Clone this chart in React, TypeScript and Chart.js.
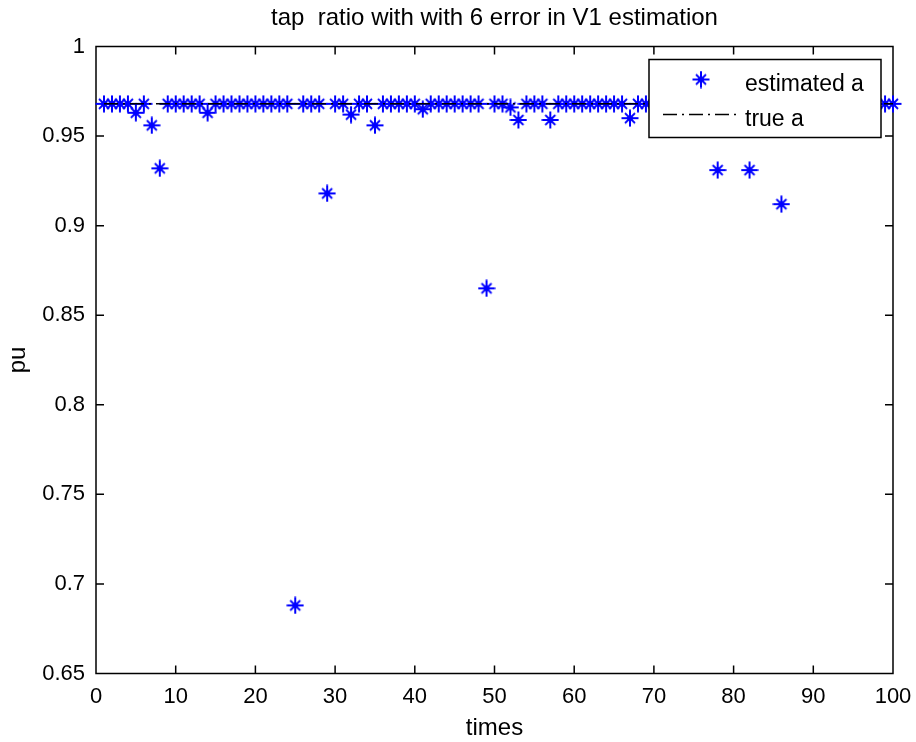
import React, { useEffect, useRef } from "react";
import { Chart, registerables } from "chart.js";

Chart.register(...registerables);

const titleText = "tap  ratio with with 6 error in V1 estimation";
const xLabel = "times";
const yLabel = "pu";
const seriesLabels = ["estimated a", "true a"];

const times = [
  1, 2, 3, 4, 5, 6, 7, 8, 9, 10,
  11, 12, 13, 14, 15, 16, 17, 18, 19, 20,
  21, 22, 23, 24, 25, 26, 27, 28, 29, 30,
  31, 32, 33, 34, 35, 36, 37, 38, 39, 40,
  41, 42, 43, 44, 45, 46, 47, 48, 49, 50,
  51, 52, 53, 54, 55, 56, 57, 58, 59, 60,
  61, 62, 63, 64, 65, 66, 67, 68, 69, 70,
  71, 72, 73, 74, 75, 76, 77, 78, 79, 80,
  81, 82, 83, 84, 85, 86, 87, 88, 89, 90,
  91, 92, 93, 94, 95, 96, 97, 98, 99, 100,
];

const estimatedA = [
  0.968, 0.968, 0.968, 0.968, 0.963, 0.968, 0.956, 0.932, 0.968, 0.968,
  0.968, 0.968, 0.968, 0.963, 0.968, 0.968, 0.968, 0.968, 0.968, 0.968,
  0.968, 0.968, 0.968, 0.968, 0.688, 0.968, 0.968, 0.968, 0.918, 0.968,
  0.968, 0.962, 0.968, 0.968, 0.956, 0.968, 0.968, 0.968, 0.968, 0.968,
  0.965, 0.968, 0.968, 0.968, 0.968, 0.968, 0.968, 0.968, 0.865, 0.968,
  0.968, 0.966, 0.959, 0.968, 0.968, 0.968, 0.959, 0.968, 0.968, 0.968,
  0.968, 0.968, 0.968, 0.968, 0.968, 0.968, 0.960, 0.968, 0.968, 0.968,
  0.968, 0.968, 0.968, 0.968, 0.968, 0.968, 0.968, 0.931, 0.968, 0.968,
  0.968, 0.931, 0.968, 0.968, 0.968, 0.912, 0.968, 0.968, 0.968, 0.968,
  0.968, 0.968, 0.968, 0.968, 0.968, 0.968, 0.968, 0.968, 0.968, 0.968,
];

const trueTimes = [1, 100];
const trueA = [0.968, 0.968];

const xTicks = [0, 10, 20, 30, 40, 50, 60, 70, 80, 90, 100];
const yTicks = [0.65, 0.7, 0.75, 0.8, 0.85, 0.9, 0.95, 1];

const FONT = '"Liberation Sans", Arial, Helvetica, sans-serif';
const STAR_COLOR = "#0000ff";
const LINE_DASH = [14, 5, 2, 5];

function makeStar(): HTMLCanvasElement {
  const c = document.createElement("canvas");
  c.width = 18;
  c.height = 18;
  const g = c.getContext("2d")!;
  g.strokeStyle = STAR_COLOR;
  g.fillStyle = STAR_COLOR;
  g.lineWidth = 2;
  g.beginPath();
  g.moveTo(0.5, 9);
  g.lineTo(17.5, 9);
  g.moveTo(9, 0.5);
  g.lineTo(9, 17.5);
  g.stroke();
  g.lineWidth = 1.8;
  g.beginPath();
  g.moveTo(4, 4);
  g.lineTo(14, 14);
  g.moveTo(14, 4);
  g.lineTo(4, 14);
  g.stroke();
  g.fillRect(6.5, 6.5, 5, 5);
  return c;
}

export default function App() {
  const ref = useRef<HTMLCanvasElement | null>(null);

  useEffect(() => {
    if (!ref.current) return;
    const star = makeStar();

    const axisBoxPlugin = {
      id: "axisBox",
      beforeDatasetsDraw(chart: any) {
        const { ctx, chartArea } = chart;
        const { left, right, top, bottom } = chartArea;
        const xs = chart.scales.x;
        const ys = chart.scales.y;
        const tl = 8;
        ctx.save();
        ctx.strokeStyle = "#000";
        ctx.lineWidth = 1.5;
        ctx.beginPath();
        ctx.rect(left, top, right - left, bottom - top);
        xs.ticks.forEach((t: any) => {
          const px = xs.getPixelForValue(t.value);
          ctx.moveTo(px, bottom);
          ctx.lineTo(px, bottom - tl);
          ctx.moveTo(px, top);
          ctx.lineTo(px, top + tl);
        });
        ys.ticks.forEach((t: any) => {
          const py = ys.getPixelForValue(t.value);
          ctx.moveTo(left, py);
          ctx.lineTo(left + tl, py);
          ctx.moveTo(right, py);
          ctx.lineTo(right - tl, py);
        });
        ctx.stroke();
        ctx.restore();
      },
    };

    const legendPlugin = {
      id: "matlabLegend",
      afterDatasetsDraw(chart: any) {
        const { ctx, chartArea } = chart;
        const w = 232;
        const h = 78;
        const x0 = chartArea.right - 12 - w;
        const y0 = chartArea.top + 13;
        ctx.save();
        ctx.fillStyle = "#fff";
        ctx.fillRect(x0, y0, w, h);
        ctx.strokeStyle = "#000";
        ctx.lineWidth = 1.5;
        ctx.strokeRect(x0, y0, w, h);
        ctx.drawImage(star, x0 + 52 - 9, y0 + 20 - 9);
        ctx.font = `23px ${FONT}`;
        ctx.fillStyle = "#000";
        ctx.textBaseline = "alphabetic";
        ctx.textAlign = "left";
        ctx.fillText(seriesLabels[0], x0 + 96, y0 + 31);
        ctx.beginPath();
        ctx.setLineDash(LINE_DASH);
        ctx.lineWidth = 1.5;
        ctx.moveTo(x0 + 14, y0 + 55);
        ctx.lineTo(x0 + 91, y0 + 55);
        ctx.stroke();
        ctx.setLineDash([]);
        ctx.fillText(seriesLabels[1], x0 + 96, y0 + 66);
        ctx.restore();
      },
    };

    Chart.defaults.color = "#000";
    Chart.defaults.font.family = FONT;

    const chart = new Chart(ref.current, {
      type: "scatter",
      data: {
        datasets: [
          {
            type: "line",
            label: seriesLabels[1],
            data: trueTimes.map((x, i) => ({ x, y: trueA[i] })),
            borderColor: "#000",
            borderWidth: 1.5,
            borderDash: LINE_DASH,
            pointRadius: 0,
            fill: false,
            order: 0,
            clip: false as any,
          },
          {
            type: "scatter",
            label: seriesLabels[0],
            data: times.map((x, i) => ({ x, y: estimatedA[i] })),
            pointStyle: star as any,
            pointRadius: 9,
            borderColor: STAR_COLOR,
            backgroundColor: STAR_COLOR,
            order: 1,
            clip: false as any,
          },
        ],
      },
      options: {
        animation: false,
        responsive: false,
        events: [],
        layout: { padding: { left: 0, right: 23, top: 0, bottom: 0 } },
        plugins: {
          legend: { display: false },
          tooltip: { enabled: false },
          title: { display: false },
        },
        scales: {
          x: {
            type: "linear",
            position: "bottom",
            min: 0,
            max: 100,
            afterBuildTicks: (scale: any) => {
              scale.ticks = xTicks.map((v) => ({ value: v }));
            },
            afterFit: (scale: any) => {
              scale.height = 68.5;
              scale.paddingLeft = 0;
              scale.paddingRight = 0;
            },
            grid: { display: false, drawTicks: false },
            border: { display: false },
            ticks: {
              color: "#000",
              font: { size: 22, family: FONT },
              padding: 10,
              maxRotation: 0,
              autoSkip: false,
              callback: (v: any) => String(v),
            },
            title: {
              display: true,
              text: xLabel,
              color: "#000",
              font: { size: 24, family: FONT, lineHeight: 1.1 },
              padding: { top: 0, bottom: 0 },
            },
          },
          xTop: {
            type: "linear",
            position: "top",
            min: 0,
            max: 100,
            afterFit: (scale: any) => {
              scale.height = 46.5;
              scale.paddingLeft = 0;
              scale.paddingRight = 0;
            },
            grid: { display: false, drawTicks: false },
            border: { display: false },
            ticks: { display: false },
            title: {
              display: true,
              text: titleText,
              color: "#000",
              font: { size: 24, family: FONT, lineHeight: 1.2 },
              padding: { top: 4, bottom: 0 },
            },
          },
          y: {
            type: "linear",
            min: 0.65,
            max: 1,
            afterBuildTicks: (scale: any) => {
              scale.ticks = yTicks.map((v) => ({ value: v }));
            },
            afterFit: (scale: any) => {
              scale.width = 96;
              scale.paddingTop = 0;
              scale.paddingBottom = 0;
            },
            grid: { display: false, drawTicks: false },
            border: { display: false },
            ticks: {
              color: "#000",
              font: { size: 22, family: FONT },
              padding: 11,
              autoSkip: false,
              callback: (v: any) => String(Math.round(v * 100) / 100),
            },
            title: {
              display: true,
              text: yLabel,
              color: "#000",
              font: { size: 24, family: FONT, lineHeight: 1.2 },
              padding: { top: 4, bottom: 0 },
            },
          },
        },
      },
      plugins: [axisBoxPlugin, legendPlugin],
    } as any);

    return () => chart.destroy();
  }, []);

  return (
    <div style={{ position: "fixed", left: 0, top: 0, width: 916, height: 742, background: "#fff" }}>
      <canvas ref={ref} width={916} height={742} style={{ width: 916, height: 742, display: "block" }} />
    </div>
  );
}
